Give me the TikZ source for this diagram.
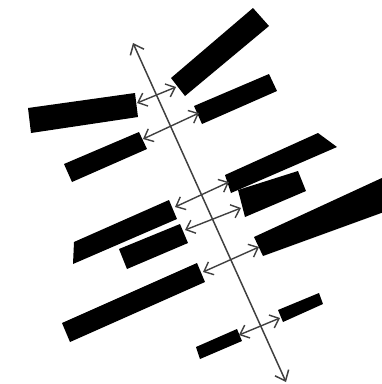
\documentclass[tikz,border=0pt]{standalone}
\usetikzlibrary{arrows.meta}
\begin{document}
\begin{tikzpicture}[x=1pt,y=-1pt,
  bar/.style={fill=black,draw=none},
  axisline/.style={draw=black!75,line width=1.5pt,{Straight Barb[length=9pt,width=15pt]}-{Straight Barb[length=9pt,width=15pt]}},
  link/.style={draw=black!75,line width=1.4pt,{Straight Barb[length=8pt,width=14pt]}-{Straight Barb[length=8pt,width=14pt]}}]
\useasboundingbox (0,0) rectangle (382,384);
\begin{scope}
\clip (0,0) rectangle (382,384);
% bars
\fill[bar] (253,8) -- (269,26) -- (185,96) -- (171,78) -- cycle;
\fill[bar] (28,108) -- (135,93) -- (138,117) -- (31,133) -- cycle;
\fill[bar] (194,106) -- (269,74) -- (277,91) -- (202,124) -- cycle;
\fill[bar] (64,164) -- (139,132) -- (147,149) -- (72,182) -- cycle;
\fill[bar] (225,175) -- (318,133) -- (337,147) -- (231,193) -- cycle;
\fill[bar] (238,190) -- (298,171) -- (306,191) -- (245,217) -- cycle;
\fill[bar] (254,237) -- (384,177) -- (384,212) -- (263,256) -- cycle;
\fill[bar] (74,242) -- (169,200) -- (177,219) -- (73,264) -- cycle;
\fill[bar] (119,249) -- (180,224) -- (188,243) -- (127,269) -- cycle;
\fill[bar] (62,323) -- (197,263) -- (205,282) -- (70,342) -- cycle;
\fill[bar] (278,310) -- (319,293) -- (323,304) -- (283,322) -- cycle;
\fill[bar] (196,347) -- (237,329) -- (242,341) -- (200,359) -- cycle;
\end{scope}
% axis
\coordinate (top) at (133,43);
\coordinate (bot) at (286,382);
\draw[axisline] (top) -- (bot);
% links
\coordinate (a1l) at (137,103); \coordinate (a1r) at (176,87);
\coordinate (a2l) at (143,139); \coordinate (a2r) at (199,113);
\coordinate (a3l) at (175,207); \coordinate (a3r) at (229,182);
\coordinate (a4l) at (185,230); \coordinate (a4r) at (241,208);
\coordinate (a5l) at (203,272); \coordinate (a5r) at (259,247);
\coordinate (a6l) at (239,335); \coordinate (a6r) at (280,318);
\draw[link] (a1l) -- (a1r);
\draw[link] (a2l) -- (a2r);
\draw[link] (a3l) -- (a3r);
\draw[link] (a4l) -- (a4r);
\draw[link] (a5l) -- (a5r);
\draw[link] (a6l) -- (a6r);
\end{tikzpicture}
\end{document}
